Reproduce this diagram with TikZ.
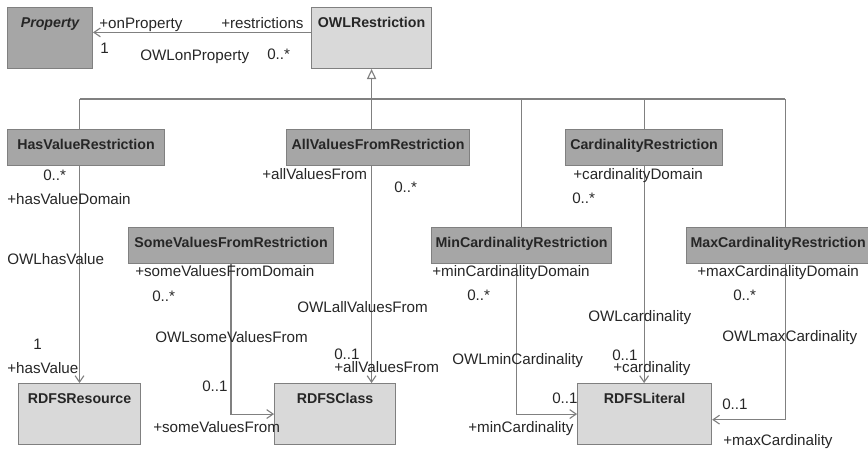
\documentclass[tikz,border=0pt]{standalone}
\usepackage{fontspec}
\setmainfont{Liberation Sans}
\usepackage{tikz}
\usetikzlibrary{arrows.meta,calc,positioning}

\newcommand{\umlfont}{\fontsize{10.1}{12}\selectfont}
\newcommand{\rolefont}{\fontsize{10.8}{13}\selectfont}

\begin{document}
\begin{tikzpicture}[
      x=0.025cm, y=-0.025cm,
      tallcls/.style={draw=black!50, line width=0.7pt, fill=black!15,
        inner xsep=0pt, inner ysep=0pt, minimum height=1.525cm,
        text height=0.35cm, text depth=0.875cm,
        font=\umlfont\bfseries, text=black!85},
      flatcls/.style={draw=black!50, line width=0.7pt, fill=black!35,
        inner xsep=0pt, inner ysep=0pt, minimum height=0.9cm,
        text height=0.35cm, text depth=0.25cm,
        font=\umlfont\bfseries, text=black!85},
      lbl/.style={font=\rolefont, text=black!85, inner sep=0pt, anchor=base west},
      genl/.style={draw=black!50, line width=0.8pt},
      assoc/.style={genl, -{Straight Barb[length=1.6mm, width=2.2mm]}},
      inherit/.style={genl, -{Triangle[open, length=2.5mm, width=2.3mm, fill=white]}}
    ]
    \useasboundingbox (0,0) rectangle (868,448);

    \node[tallcls, fill=black!35, anchor=north west, minimum width=2.125cm,
      font=\umlfont\bfseries\itshape] (prop) at (7,7) {Property};
    \node[tallcls, right=5.45cm of prop, minimum width=3cm] (owlr) {OWLRestriction};

    \node[flatcls, below right=1.5cm and 0cm of prop.south west,
      minimum width=3.925cm] (hasv) {HasValueRestriction};
    \node[flatcls, right=3.025cm of hasv, minimum width=4.575cm] (allv)
      {AllValuesFromRestriction};
    \node[flatcls, right=2.375cm of allv, minimum width=3.925cm] (card)
      {CardinalityRestriction};

    \node[flatcls, below right=1.525cm and 3.025cm of hasv.south west,
      minimum width=5.125cm] (somev) {SomeValuesFromRestriction};
    \node[flatcls, right=2.425cm of somev, minimum width=4.5cm] (minc)
      {MinCardinalityRestriction};
    \node[flatcls, right=1.85cm of minc, minimum width=4.575cm] (maxc)
      {MaxCardinalityRestriction};

    \node[tallcls, below right=5.425cm and 0.275cm of hasv.south west,
      minimum width=3.05cm] (rres) {RDFSResource};
    \node[tallcls, right=3.325cm of rres, minimum width=3.025cm] (rcls) {RDFSClass};
    \node[tallcls, right=4.525cm of rcls, minimum width=3.35cm] (rlit) {RDFSLiteral};

    \coordinate[below=0.75cm of owlr.south] (bus);
    \coordinate[left=2.125cm of maxc.south east] (maxfoot);

    % subclass tree
    \draw[inherit] (bus) -- (owlr.south);
    \draw[genl] (bus -| rres.north) -- (bus -| maxfoot);
    \draw[genl] (bus -| rres.north) -- (hasv.north -| rres.north);
    \draw[genl] (bus) -- (allv.north -| bus);
    \draw[genl] (bus -| minc.north) -- (minc.north);
    \draw[genl] (bus -| card.north) -- (card.north);
    \draw[genl] (bus -| maxfoot) -- (maxc.north -| maxfoot);

    % associations
    \draw[assoc] ([yshift=0.14cm]owlr.west) -- ([yshift=0.14cm]prop.east);
    \draw[assoc] (hasv.south -| rres.north) -- (rres.north);
    \draw[assoc] (allv.south -| bus) -- (rcls.north -| bus);
    \draw[assoc] (somev.south) |- (rcls.west);
    \draw[assoc] ([xshift=-0.125cm]minc.south) |- (rlit.west);
    \draw[assoc] (card.south) -- (rlit.north -| card.south);
    \draw[assoc] (maxfoot) |- ([yshift=-0.14cm]rlit.east);

    \node[lbl] (onPropRole) at (99,28) {+onProperty};
    \node[lbl] (restrRole) at (221,28) {+restrictions};
    \node[lbl] (onPropMult) at (100,53) {1};
    \node[lbl] (onPropName) at (140,60) {OWLonProperty};
    \node[lbl] (restrMult) at (267,59) {0..*};

    \node[lbl] (hvDomMult) at (43,180) {0..*};
    \node[lbl] (hvDomRole) at (7,204) {+hasValueDomain};
    \node[lbl] (hvName) at (7,264) {OWLhasValue};
    \node[lbl] (hvMult) at (33,349) {1};
    \node[lbl] (hvRole) at (7,373) {+hasValue};

    \node[lbl] (avDomRole) at (262,179) {+allValuesFrom};
    \node[lbl] (avDomMult) at (394,192) {0..*};
    \node[lbl] (avName) at (297,312) {OWLallValuesFrom};
    \node[lbl] (avMult) at (334,359) {0..1};
    \node[lbl] (avRole) at (334,372) {+allValuesFrom};

    \node[lbl] (svDomRole) at (135,276) {+someValuesFromDomain};
    \node[lbl] (svDomMult) at (152,301) {0..*};
    \node[lbl] (svName) at (155,342) {OWLsomeValuesFrom};
    \node[lbl] (svMult) at (202,391) {0..1};
    \node[lbl] (svRole) at (153,432) {+someValuesFrom};

    \node[lbl] (mcDomRole) at (432,276) {+minCardinalityDomain};
    \node[lbl] (mcDomMult) at (467,300) {0..*};
    \node[lbl] (mcName) at (452,364) {OWLminCardinality};
    \node[lbl] (mcMult) at (552,403) {0..1};
    \node[lbl] (mcRole) at (468,432) {+minCardinality};

    \node[lbl] (cDomRole) at (573,179) {+cardinalityDomain};
    \node[lbl] (cDomMult) at (572,203) {0..*};
    \node[lbl] (cName) at (588,321) {OWLcardinality};
    \node[lbl] (cMult) at (612,360) {0..1};
    \node[lbl] (cRole) at (613,372) {+cardinality};

    \node[lbl] (xDomRole) at (697,276) {+maxCardinalityDomain};
    \node[lbl] (xDomMult) at (733,300) {0..*};
    \node[lbl] (xName) at (722,341) {OWLmaxCardinality};
    \node[lbl] (xMult) at (722,409) {0..1};
    \node[lbl] (xRole) at (723,445) {+maxCardinality};
  \end{tikzpicture}
\end{document}
